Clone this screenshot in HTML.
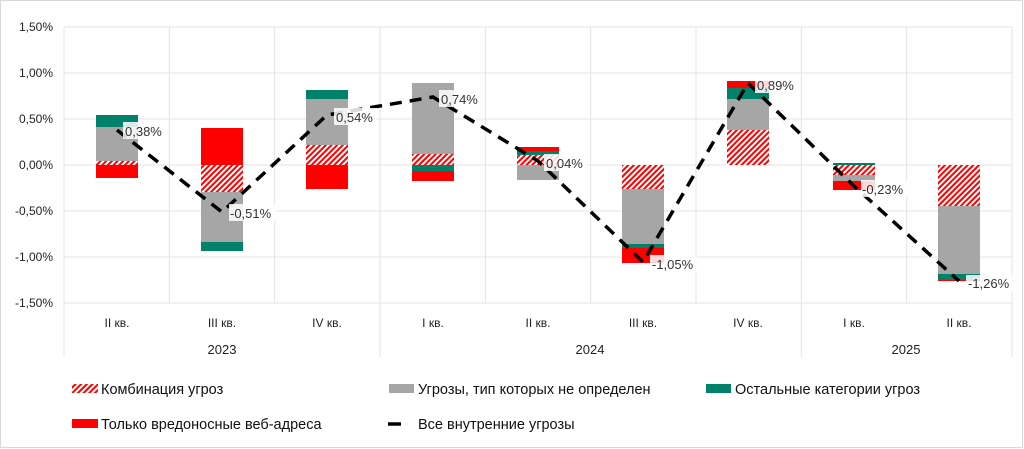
<!DOCTYPE html>
<html><head><meta charset="utf-8"><style>
html,body{margin:0;padding:0;background:#fff}
svg{display:block;font-family:"Liberation Sans","DejaVu Sans",sans-serif}
</style></head><body>
<svg width="1024" height="449" viewBox="0 0 1024 449" xmlns="http://www.w3.org/2000/svg">
<defs>
<pattern id="h" width="4" height="4" patternUnits="userSpaceOnUse" patternTransform="rotate(45)">
<rect width="4" height="4" fill="#fff"/><rect width="2" height="4" fill="#f00"/>
</pattern>
</defs>
<rect x="0.5" y="0.5" width="1022" height="447" fill="#fff" stroke="#d9d9d9"/>
<g stroke="#e3e3e3" stroke-width="1">
<line x1="64" y1="27" x2="1012" y2="27"/>
<line x1="64" y1="73" x2="1012" y2="73"/>
<line x1="64" y1="119" x2="1012" y2="119"/>
<line x1="64" y1="165" x2="1012" y2="165"/>
<line x1="64" y1="211" x2="1012" y2="211"/>
<line x1="64" y1="257" x2="1012" y2="257"/>
<line x1="64" y1="303" x2="1012" y2="303"/>
<line x1="64" y1="27" x2="64" y2="357"/>
<line x1="169.3" y1="27" x2="169.3" y2="303"/>
<line x1="274.7" y1="27" x2="274.7" y2="303"/>
<line x1="380" y1="27" x2="380" y2="357"/>
<line x1="485.3" y1="27" x2="485.3" y2="303"/>
<line x1="590.7" y1="27" x2="590.7" y2="303"/>
<line x1="696" y1="27" x2="696" y2="303"/>
<line x1="801.3" y1="27" x2="801.3" y2="357"/>
<line x1="906.7" y1="27" x2="906.7" y2="303"/>
<line x1="1012" y1="27" x2="1012" y2="357"/>
</g>
<g font-size="12" fill="#222" text-anchor="end">
<text x="53" y="31">1,50%</text><text x="53" y="77">1,00%</text><text x="53" y="123">0,50%</text>
<text x="53" y="169">0,00%</text><text x="53" y="215">-0,50%</text><text x="53" y="261">-1,00%</text>
<text x="53" y="307">-1,50%</text>
</g>
<g>
<rect x="96" y="115" width="42" height="12" fill="#00826a"/>
<rect x="96" y="127" width="42" height="34" fill="#a6a6a6"/>
<rect x="96" y="161" width="42" height="4" fill="url(#h)"/>
<rect x="96" y="165" width="42" height="13" fill="#f00"/>
<rect x="201" y="128" width="42" height="37" fill="#f00"/>
<rect x="201" y="165" width="42" height="27" fill="url(#h)"/>
<rect x="201" y="192" width="42" height="50" fill="#a6a6a6"/>
<rect x="201" y="242" width="42" height="9" fill="#00826a"/>
<rect x="306" y="90" width="42" height="9" fill="#00826a"/>
<rect x="306" y="99" width="42" height="46" fill="#a6a6a6"/>
<rect x="306" y="145" width="42" height="20" fill="url(#h)"/>
<rect x="306" y="165" width="42" height="24" fill="#f00"/>
<rect x="412" y="83" width="42" height="71" fill="#a6a6a6"/>
<rect x="412" y="154" width="42" height="11" fill="url(#h)"/>
<rect x="412" y="165" width="42" height="6" fill="#00826a"/>
<rect x="412" y="171" width="42" height="10" fill="#f00"/>
<rect x="517" y="147" width="42" height="4" fill="#f00"/>
<rect x="517" y="151" width="42" height="4" fill="#00826a"/>
<rect x="517" y="155" width="42" height="10" fill="url(#h)"/>
<rect x="517" y="165" width="42" height="15" fill="#a6a6a6"/>
<rect x="622" y="165" width="42" height="24" fill="url(#h)"/>
<rect x="622" y="189" width="42" height="55" fill="#a6a6a6"/>
<rect x="622" y="244" width="42" height="4" fill="#00826a"/>
<rect x="622" y="248" width="42" height="15" fill="#f00"/>
<rect x="727" y="81" width="42" height="7" fill="#f00"/>
<rect x="727" y="88" width="42" height="11" fill="#00826a"/>
<rect x="727" y="99" width="42" height="31" fill="#a6a6a6"/>
<rect x="727" y="130" width="42" height="35" fill="url(#h)"/>
<rect x="833" y="163" width="42" height="2" fill="#00826a"/>
<rect x="833" y="165" width="42" height="10" fill="url(#h)"/>
<rect x="833" y="175" width="42" height="6" fill="#a6a6a6"/>
<rect x="833" y="181" width="42" height="9" fill="#f00"/>
<rect x="938" y="165" width="42" height="41" fill="url(#h)"/>
<rect x="938" y="206" width="42" height="68" fill="#a6a6a6"/>
<rect x="938" y="274" width="42" height="6" fill="#00826a"/>
<rect x="938" y="280" width="42" height="1" fill="#f00"/>
</g>
<polyline points="117,130 222,212 327,115 433,97 538,161 643,262 748,83 854,186 959,281" fill="none" stroke="#000" stroke-width="3.5" stroke-dasharray="12,8"/>
<g font-size="13" fill="#333">
<rect x="123" y="122" width="43" height="17" fill="#fff" opacity="0.85"/><text x="125" y="136">0,38%</text>
<rect x="229" y="204" width="47" height="17" fill="#fff" opacity="0.85"/><text x="230" y="218">-0,51%</text>
<rect x="334" y="108" width="43" height="17" fill="#fff" opacity="0.85"/><text x="336" y="122">0,54%</text>
<rect x="439" y="90" width="43" height="17" fill="#fff" opacity="0.85"/><text x="441" y="104">0,74%</text>
<rect x="544" y="154" width="43" height="17" fill="#fff" opacity="0.85"/><text x="546" y="168">0,04%</text>
<rect x="650" y="255" width="47" height="17" fill="#fff" opacity="0.85"/><text x="652" y="269">-1,05%</text>
<rect x="755" y="76" width="43" height="17" fill="#fff" opacity="0.85"/><text x="757" y="90">0,89%</text>
<rect x="861" y="180" width="47" height="17" fill="#fff" opacity="0.85"/><text x="862" y="194">-0,23%</text>
<rect x="966" y="275" width="47" height="17" fill="#fff" opacity="0.85"/><text x="968" y="288">-1,26%</text>
</g>
<g font-size="12" fill="#222" text-anchor="middle">
<text x="117" y="327">II кв.</text><text x="222" y="327">III кв.</text><text x="327" y="327">IV кв.</text>
<text x="433" y="327">I кв.</text><text x="538" y="327">II кв.</text><text x="643" y="327">III кв.</text>
<text x="748" y="327">IV кв.</text><text x="854" y="327">I кв.</text><text x="959" y="327">II кв.</text>
<text x="222" y="354" font-size="13">2023</text><text x="590" y="354" font-size="13">2024</text><text x="906" y="354" font-size="13">2025</text>
</g>
<g font-size="14.5" fill="#111">
<rect x="72" y="384" width="26" height="9" fill="url(#h)"/><text x="101" y="394">Комбинация угроз</text>
<rect x="389" y="384" width="25" height="9" fill="#a6a6a6"/><text x="418" y="394">Угрозы, тип которых не определен</text>
<rect x="706" y="384" width="25" height="9" fill="#00826a"/><text x="735" y="394">Остальные категории угроз</text>
<rect x="72" y="419" width="26" height="9" fill="#f00"/><text x="101" y="429">Только вредоносные веб-адреса</text>
<line x1="388" y1="424" x2="401" y2="424" stroke="#000" stroke-width="3.5"/><text x="418" y="429">Все внутренние угрозы</text>
</g>
</svg>
</body></html>
